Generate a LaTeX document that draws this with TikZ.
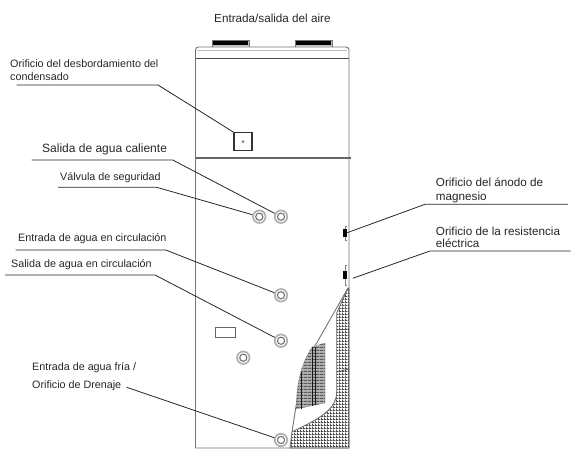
\documentclass[tikz,border=0pt]{standalone}
\usepackage{fontspec}
\setmainfont{Liberation Sans}
\usetikzlibrary{patterns}
\pgfdeclarepatternformonly{mesh}{\pgfqpoint{0pt}{0pt}}{\pgfqpoint{3pt}{3pt}}{\pgfqpoint{3pt}{3pt}}{
  \pgfsetlinewidth{1pt}
  \pgfpathmoveto{\pgfqpoint{0pt}{0.5pt}}\pgfpathlineto{\pgfqpoint{3pt}{0.5pt}}
  \pgfpathmoveto{\pgfqpoint{0.5pt}{0pt}}\pgfpathlineto{\pgfqpoint{0.5pt}{3pt}}
  \pgfusepath{stroke}}
\pgfdeclarepatternformonly{coilrows}{\pgfqpoint{0pt}{0pt}}{\pgfqpoint{4pt}{2.6pt}}{\pgfqpoint{4pt}{2.6pt}}{
  \pgfsetlinewidth{1.1pt}
  \pgfpathmoveto{\pgfqpoint{0pt}{0.6pt}}\pgfpathlineto{\pgfqpoint{4pt}{0.6pt}}
  \pgfusepath{stroke}}
\begin{document}
\begin{tikzpicture}[x=1pt,y=-1pt]
\tikzstyle{label}=[anchor=west, align=left, inner sep=0pt, text=black!85, font=\fontsize{10.75}{13}\selectfont]
\tikzstyle{biglabel}=[label, font=\fontsize{12}{14}\selectfont]
\tikzstyle{sidelabel}=[label, font=\fontsize{11.7}{14}\selectfont]
\tikzstyle{leader}=[draw=black!85, line width=0.8pt]
\tikzstyle{body}=[draw=black!55, line width=0.9pt]
\tikzstyle{valve}=[draw=black!30, shape=circle, line width=1.8pt, minimum size=12.5pt, inner sep=0pt, fill=white,
  path picture={\draw[black!55, line width=1.1pt] (path picture bounding box.center) circle (3.6pt);}]
\tikzstyle{plug}=[draw=none, fill=black, minimum width=4pt, minimum height=8pt, inner sep=0pt]
\useasboundingbox (0,0) rectangle (571,450);
% cabinet
\draw[body] (195.5,448) -- (195.5,51) [rounded corners=3pt] -- (195.5,47) -- (349,47) [sharp corners] -- (349,448) -- (195.5,448);
\draw[black!25, line width=0.8pt] (197,50) -- (347,50);
\draw[black!70, line width=1pt] (195.5,58.5) -- (349,58.5);
\draw[black!60, line width=1.6pt] (195.5,158) -- (351,158);
% air vents
\draw[black!55, fill=black!25, line width=0.8pt] (212,47) -- (212,40) -- (249,40) -- (249,47);
\fill (213,41) rectangle (248,45);
\draw[black!55, fill=black!25, line width=0.8pt] (295,47) -- (295,40) -- (332,40) -- (332,47);
\fill (296,41) rectangle (331,45);
% insulation
\draw[body, pattern=mesh, pattern color=black!70]
  (348,288) -- (336.7,313) -- (336.7,392) .. controls (336.7,408) and (322,418) .. (292,431.7)
  -- (290,448) -- (349,448) -- (349,288) -- cycle;
\draw[black!70, line width=0.7pt] (336.7,330) -- (349,329);
\draw[black!70, line width=0.7pt] (336.7,372) -- (349,369);
% cut-away edge
\draw[body] (348,288) -- (316.7,343) .. controls (306,358) and (300,380) .. (297,400) -- (292,431.7);
% coil
\draw[draw=black!40, fill=black!30, postaction={pattern=coilrows, pattern color=black!65}]
  (312,347) -- (325,343) -- (325,403) -- (296,409) -- (297,393) .. controls (299,372) and (305,358) .. (312,347) -- cycle;
\draw[black!90, line width=0.8pt] (301,372) -- (301,409);
\draw[black!90, line width=0.8pt] (312,347) -- (312,406);
\draw[black!90, line width=0.8pt] (315.5,347) -- (315.5,405);
% side fittings
\draw[black!50, line width=0.8pt] (347,226) -- (345,226) -- (345,240) -- (347,240);
\draw[black!50, line width=0.8pt] (347,265) -- (345,265) -- (345,285) -- (347,285);
\node at (345,232.7) [plug] (anode) {};
\node at (345,275.3) [plug] (heater) {};
% small details
\node at (243,141.7) [draw=black!80, line width=1.2pt, minimum size=18pt, inner sep=0pt] (overflow) {};
\fill[black!50] (overflow.center) circle (1.5pt);
\node at (225.8,332.5) [draw=black!60, line width=1pt, minimum width=20pt, minimum height=9.5pt, inner sep=0pt] (panel) {};
\node at (259.3,216.7) [valve] (safety) {};
\node at (281,216.7) [valve] (hot) {};
\node at (281,295.3) [valve] (circin) {};
\node at (281,340.7) [valve] (circout) {};
\node at (243.3,357.7) [valve] (spare) {};
\node at (281,440) [valve] (cold) {};
% labels
\node at (214,18) [sidelabel] (air) {Entrada/salida del aire};
\node at (10,70.5) [label] (overflowtxt) {Orificio del desbordamiento del\\condensado};
\node at (42,149) [biglabel] (hottxt) {Salida de agua caliente};
\node at (60,178) [label] (safetytxt) {Válvula de seguridad};
\node at (18,239) [label] (circintxt) {Entrada de agua en circulación};
\node at (11,265) [label] (circouttxt) {Salida de agua en circulación};
\node at (32,377) [label] (coldtxt) {Entrada de agua fría /\\[5pt]Orificio de Drenaje};
\node at (435.7,190) [sidelabel] (anodetxt) {Orificio del ánodo de\\magnesio};
\node at (435.7,237) [sidelabel, font=\fontsize{11.7}{12}\selectfont] (heatertxt) {Orificio de la resistencia\\eléctrica};
% leaders
\coordinate (a1) at (16.7,85); \coordinate (a2) at (158,85);
\coordinate (b1) at (31.7,160); \coordinate (b2) at (172.7,160);
\coordinate (c1) at (58,187.3); \coordinate (c2) at (156.7,187.3);
\coordinate (d1) at (15.7,250); \coordinate (d2) at (165.7,250);
\coordinate (e1) at (5,275); \coordinate (e2) at (155,275);
\coordinate (f1) at (126.7,387.3);
\coordinate (g1) at (568,204.3); \coordinate (g2) at (425,204.3);
\coordinate (h1) at (570.7,251); \coordinate (h2) at (430,251);
\coordinate (h3) at (352.7,278.3);
\draw[leader] (a1) -- (a2) -- (overflow.north west);
\draw[leader] (b1) -- (b2) -- (hot);
\draw[leader] (c1) -- (c2) -- (safety);
\draw[leader] (d1) -- (d2) -- (circin);
\draw[leader] (e1) -- (e2) -- (circout);
\draw[leader] (f1) -- (cold);
\draw[leader] (g1) -- (g2) -- (anode.east);
\draw[leader] (h1) -- (h2) -- (h3);
\end{tikzpicture}
\end{document}
